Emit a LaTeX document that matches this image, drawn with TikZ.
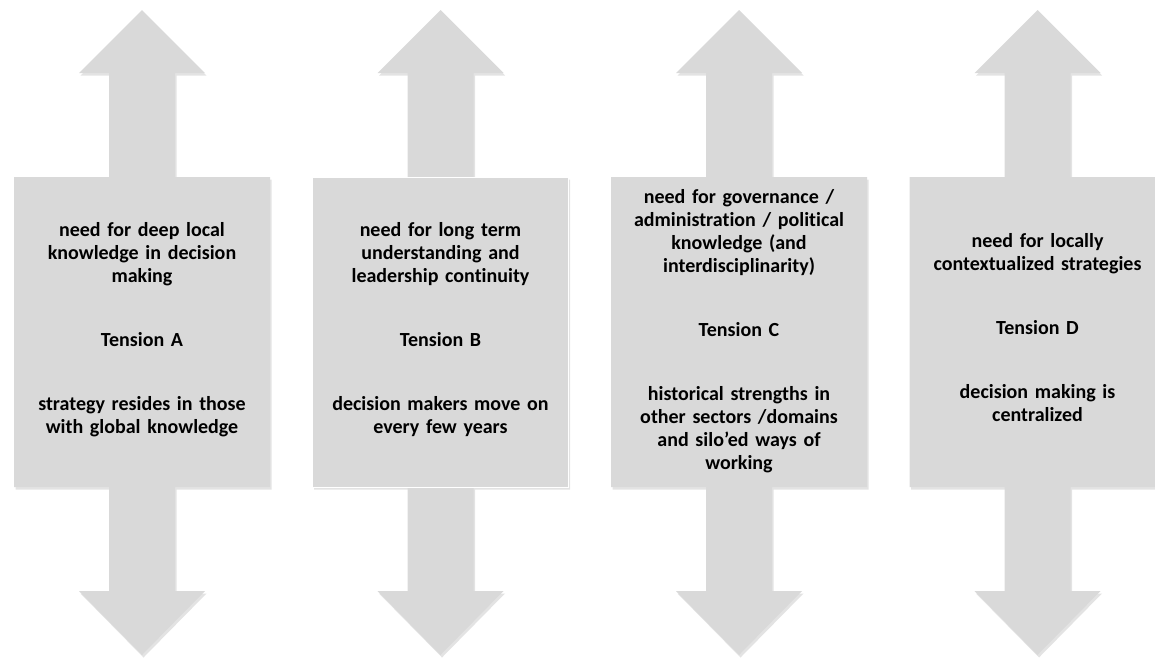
\documentclass[tikz,border=0pt]{standalone}
\usepackage{fontspec}
\setmainfont{Carlito}[Ligatures={NoCommon}]
\definecolor{tensionGray}{RGB}{217,217,217}
\usetikzlibrary{shadows}

\begin{document}
\begin{tikzpicture}[x=1pt, y=-1pt,
    callout/.style={fill=tensionGray,
                    drop shadow={opacity=0.22, shadow xshift=1.5pt, shadow yshift=-2.5pt}},
    txt/.style={align=center, text width=254pt, inner sep=0pt,
                font=\fontsize{20}{23}\selectfont\bfseries}
  ]
  \clip (0,0) rectangle (1155,657);

  % up-down arrow callouts
  \foreach \cx in {142,440.5,739,1037.5}
    \path[callout, shift={(\cx,0)}]
      (0,10) -- (63,73) -- (33,73) -- (33,177) -- (128,177) -- (128,487)
      -- (33,487) -- (33,591) -- (63,591) -- (0,655) -- (-63,591)
      -- (-33,591) -- (-33,487) -- (-128,487) -- (-128,177) -- (-33,177)
      -- (-33,73) -- (-63,73) -- cycle;
  \draw[white, line width=1.2pt] (312.5,177.5) rectangle (568.5,487.5);

  \node[txt] (tA) at (142,330) {need for deep local\\knowledge in decision\\making\\[41pt]
    Tension A\\[41pt]strategy resides in those\\with global knowledge};
  \node[txt] (tB) at (440.5,330) {need for long term\\understanding and\\leadership continuity\\[41pt]
    Tension B\\[41pt]decision makers move on\\every few years};
  \node[txt] (tC) at (739,331) {need for governance /\\administration / political\\knowledge (and\\interdisciplinarity)\\[41pt]
    Tension C\\[41pt]historical strengths in\\other sectors /domains\\and silo\symbol{39}ed ways of\\working};
  \node[txt] (tD) at (1037.5,328) {need for locally\\contextualized strategies\\[41pt]
    Tension D\\[41pt]decision making is\\centralized};
\end{tikzpicture}
\end{document}
